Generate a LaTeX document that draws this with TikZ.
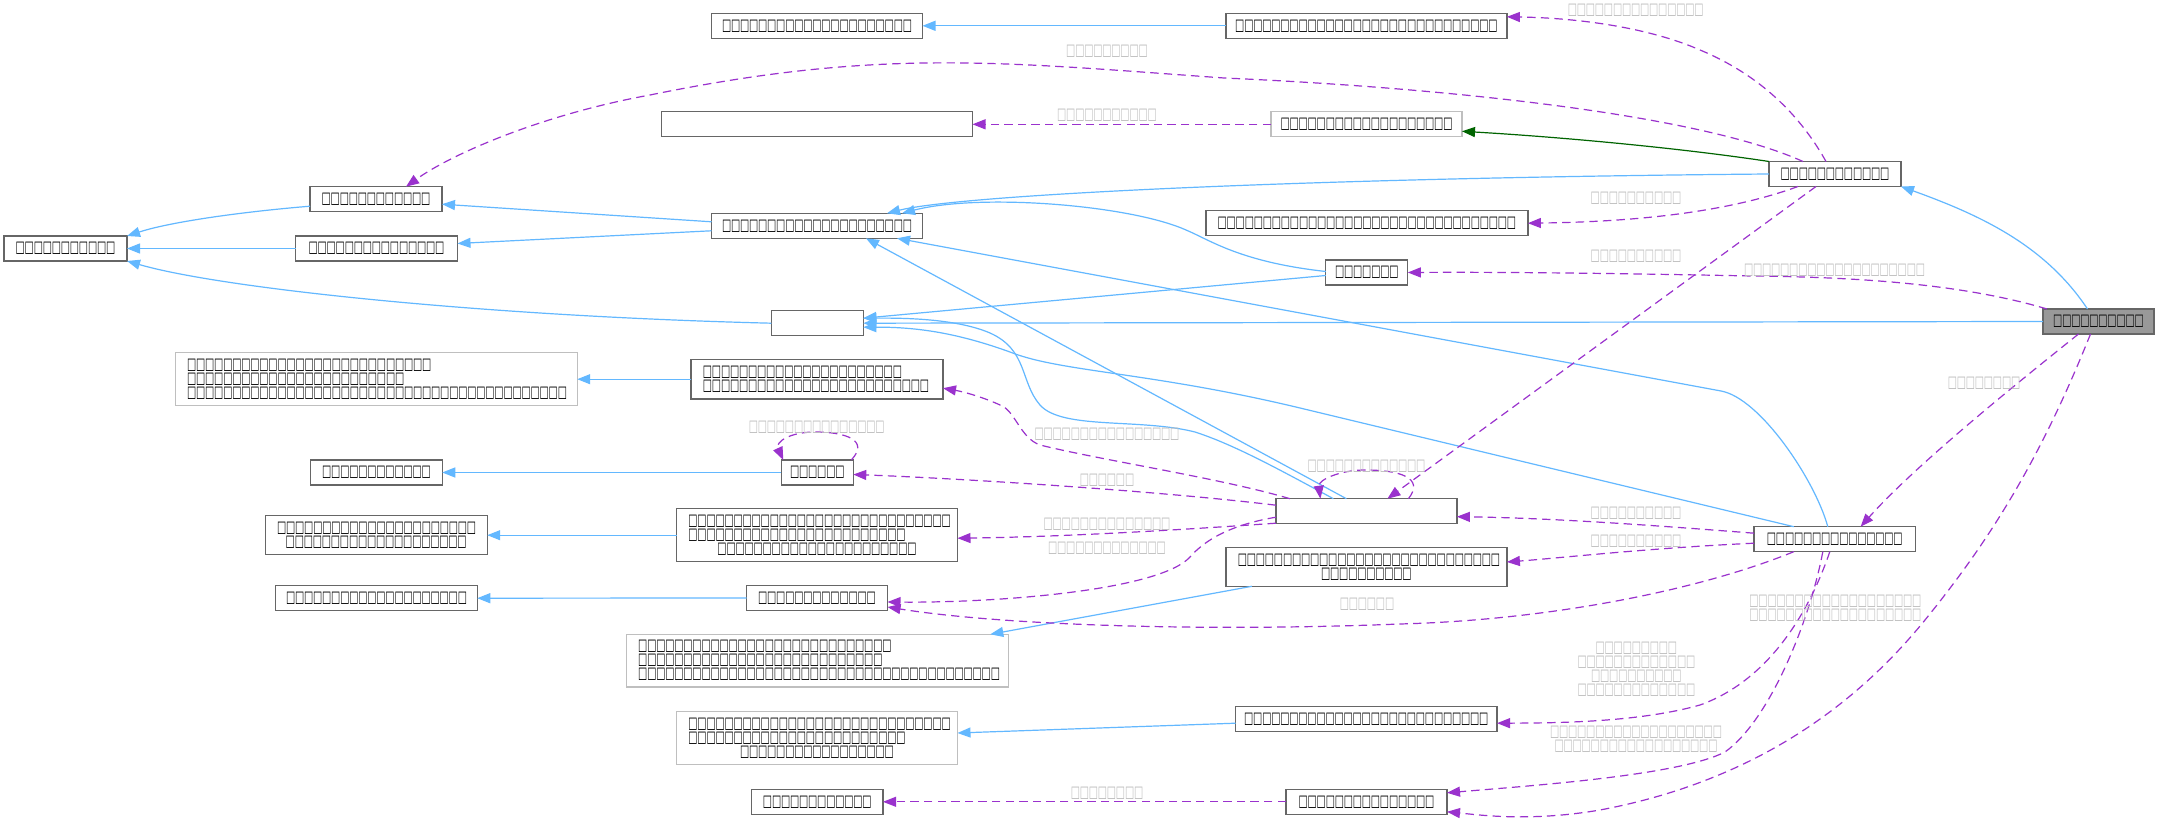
\documentclass[tikz,border=0pt]{standalone}
\usepackage{fontspec}
\usepackage{graphicx}
\usetikzlibrary{arrows.meta,calc}
\newfontfamily\tofufont{DejaVu Sans}
\definecolor{inhblue}{HTML}{63B8FF}
\definecolor{usepurple}{HTML}{9A32CD}
\definecolor{tplgreen}{HTML}{006400}
\definecolor{nodeborder}{HTML}{666666}
\definecolor{lightborder}{HTML}{BFBFBF}
\definecolor{mainfill}{HTML}{999999}
\definecolor{lblgray}{HTML}{BEBEBE}
\newcommand\tofuone{\makebox[4.52pt][c]{\resizebox*{4.6pt}{6.2pt}{\tofufont □}}}
\newcommand\tofus[1]{\ifnum#1>0 \tofuone\expandafter\tofus\expandafter{\the\numexpr#1-1\relax}\fi}
\newcommand\tofuc[1]{\mbox{}\hskip0pt plus1filll\tofus{#1}\hskip0pt plus1filll\mbox{}}
\tikzset{
  box/.style={draw=nodeborder, fill=white, line width=0.6pt, inner sep=0pt, outer sep=0pt,
    minimum height=12.5pt, text=black, font=\fontsize{6pt}{7pt}\selectfont},
  pale/.style={draw=lightborder},
  multi/.style={align=left, inner xsep=6pt, text width=#1},
  lbl/.style={text=lblgray, inner sep=0pt, align=center, font=\fontsize{6pt}{7pt}\selectfont},
  inh/.style={draw=inhblue, line width=0.6pt, -{Triangle[length=6.5pt,width=5pt]}},
  use/.style={draw=usepurple, line width=0.6pt, dash pattern=on 4.2pt off 2.6pt, -{Triangle[length=6.5pt,width=5pt]}},
  tpl/.style={draw=tplgreen, line width=0.6pt, -{Triangle[length=6.5pt,width=5pt]}},
}
\begin{document}
\begin{tikzpicture}[x=0.5pt,y=-0.5pt]
\useasboundingbox (0,0) rectangle (2160,823);
\fill[white] (0,0) rectangle (2160,823);
% ---------- nodes ----------
\node[box, minimum width=61.5pt] (Root) at (65.5,248.5) {\tofus{11}};
\node[box, minimum width=66pt] (B) at (376,199.2) {\tofus{12}};
\node[box, minimum width=81pt] (C) at (376.5,248.5) {\tofus{15}};
\node[box, pale, multi=189pt, minimum height=26.5pt] (D) at (376.2,379.2) {\tofus{27}\\\tofus{24}\\\tofus{42}};
\node[box, minimum width=105.5pt] (E) at (817,25.8) {\tofus{21}};
\node[box, minimum width=155.5pt] (F) at (817,124.3) {};
\node[box, minimum width=105.5pt] (G) at (817,225.8) {\tofus{21}};
\node[box, minimum width=46pt] (H) at (817.3,323.2) {};
\node[box, multi=114pt, minimum height=19.85pt] (I) at (817,379.2) {\tofus{22}\\\tofus{25}};
\node[box, minimum width=36pt] (J) at (817.3,472.5) {\tofus{6}};
\node[box, minimum width=65.75pt] (K) at (376.5,472.5) {\tofus{12}};
\node[box, multi=99pt, minimum height=19.5pt] (L) at (376.2,535.2) {\tofus{22}\\\tofuc{20}};
\node[box, multi=128.5pt, minimum height=26.5pt] (M) at (817,535.2) {\tofus{29}\\\tofus{24}\\\tofuc{22}};
\node[box, minimum width=100.75pt] (N) at (376.5,598.2) {\tofus{20}};
\node[box, minimum width=70.5pt] (O) at (817,598) {\tofus{13}};
\node[box, pale, multi=179pt, minimum height=26.4pt] (P) at (817.3,660.7) {\tofus{28}\\\tofus{27}\\\tofus{40}};
\node[box, pale, multi=128.5pt, minimum height=26.3pt] (Q) at (817,738) {\tofus{29}\\\tofus{24}\\\tofuc{17}};
\node[box, minimum width=65.75pt] (R) at (817.3,801.8) {\tofus{12}};
\node[box, minimum width=140.5pt] (S) at (1366.4,25.8) {\tofus{29}};
\node[box, pale, minimum width=95.5pt] (T) at (1366.5,124.3) {\tofus{19}};
\node[box, minimum width=161pt] (U) at (1366.9,223.2) {\tofus{33}};
\node[box, minimum width=41pt] (V) at (1366.8,272.5) {\tofus{7}};
\node[box, minimum width=90.5pt] (W) at (1366.4,511.2) {};
\node[box, multi=128.5pt, minimum height=19.3pt] (X) at (1366.4,567) {\tofus{29}\\\tofuc{10}};
\node[box, minimum width=130.75pt] (Y) at (1366.3,719.2) {\tofus{27}};
\node[box, minimum width=80.5pt] (Z) at (1366.5,801.8) {\tofus{15}};
\node[box, minimum width=66pt] (AA) at (1835,174) {\tofus{12}};
\node[box, minimum width=80.8pt] (AB) at (1834.8,539.2) {\tofus{15}};
\node[box, fill=mainfill, minimum width=55.5pt] (Main) at (2098.5,321.5) {\tofus{10}};
% ---------- inheritance (blue) ----------
\draw[inh] ($(B.west)+(0,7)$) .. controls (240,212) and (170,222) .. (Root.north east);
\draw[inh] (C.west) -- (Root.east);
\draw[inh] (H.west) .. controls (480,316) and (220,288) .. (Root.south east);
\draw[inh] ($(G.west)+(0,-4)$) -- ($(B.east)+(0,5)$);
\draw[inh] ($(G.west)+(0,5)$) -- ($(C.east)+(0,-5)$);
\draw[inh] (AA.west) .. controls (1300,178) and (960,195) .. ($(G.north)+(70,0)$);
\draw[inh] ($(V.west)+(0,-1)$) .. controls (1240,262) and (1210,240) .. (1186,230) .. controls (1130,205) and (980,193) .. ($(G.north)+(85,0)$);
\draw[inh] ($(W.north)+(-20,0)$) -- ($(G.south)+(49,0)$);
\draw[inh] ($(AB.north)+(-7,0)$) .. controls (1815,480) and (1760,398) .. (1721,391) -- ($(G.south)+(80,0)$);
\draw[inh] ($(AB.north)+(-41,0)$) -- (1300,408) .. controls (1150,372) and (1060,372) .. (1010,352) .. controls (960,334) and (920,327) .. ($(H.east)+(0,4)$);
\draw[inh] ($(V.west)+(0,3)$) -- ($(H.east)+(0,-5)$);
\draw[inh] (Main.west) -- (H.east);
\draw[inh] ($(W.north)+(-33,0)$) .. controls (1280,470) and (1235,445) .. (1195,432) .. controls (1140,418) and (1062,430) .. (1040,405) .. controls (1020,382) and (1028,350) .. (990,333) .. controls (955,318) and (900,318) .. ($(H.east)+(0,-5)$);
\draw[inh] (S.west) -- (E.east);
\draw[inh] ($(Main.north)+(-11,0)$) .. controls (2045,245) and (1980,215) .. (AA.south east);
\draw[inh] ($(X.south west)+(26,0)$) -- ($(P.north east)+(-18,0)$);
\draw[inh] ($(Y.west)+(0,4)$) -- ($(Q.east)+(0,-5)$);
\draw[inh] (I.west) -- (D.east);
\draw[inh] (J.west) -- (K.east);
\draw[inh] (M.west) -- (L.east);
\draw[inh] (O.west) -- (N.east);
% ---------- template (green) ----------
\draw[tpl] (AA.north west) .. controls (1680,148) and (1560,137) .. ($(T.east)+(0,7)$);
% ---------- usage (purple dashed) ----------
\draw[use] ($(AA.north)+(-9,0)$) .. controls (1800,115) and (1760,75) .. (1700,50) .. controls (1650,28) and (1580,18) .. ($(S.east)+(0,-9)$);
\draw[use] ($(AA.north)+(-32,0)$) .. controls (1700,115) and (1450,88) .. (1224,78) .. controls (1000,62) and (880,48) .. (650,95) .. controls (540,115) and (450,155) .. ($(B.north)+(30,0)$);
\draw[use] ($(AA.south)+(-37,0)$) .. controls (1720,215) and (1620,222) .. (U.east);
\draw[use] ($(AA.south)+(-19,0)$) -- ($(W.north)+(21,0)$);
\draw[use] (T.west) -- (F.east);
\draw[use] ($(Main.north west)+(4,0)$) .. controls (1960,283) and (1850,277) .. (1752,276) .. controls (1600,273) and (1500,272) .. (V.east);
\draw[use] ($(Main.south)+(-20,0)$) .. controls (2040,365) and (1920,460) .. ($(AB.north east)+(-55,0)$);
\draw[use] ($(Main.south)+(-8,0)$) .. controls (2040,460) and (1990,540) .. (1925,620) .. controls (1860,700) and (1760,780) .. (1600,810) .. controls (1530,822) and (1480,815) .. ($(Z.east)+(0,10)$);
\draw[use] ($(AB.south)+(-5,0)$) .. controls (1810,610) and (1770,680) .. (1700,705) .. controls (1640,722) and (1560,723) .. ($(Y.east)+(0,4)$);
\draw[use] ($(AB.south)+(-12,0)$) .. controls (1810,620) and (1770,720) .. (1725,752) .. controls (1680,775) and (1540,785) .. ($(Z.east)+(0,-9)$);
\draw[use] ($(AB.west)+(0,-6)$) .. controls (1650,525) and (1550,518) .. ($(W.east)+(0,5.5)$);
\draw[use] ($(AB.west)+(0,4)$) .. controls (1650,548) and (1560,558) .. ($(X.east)+(0,-5)$);
\draw[use] ($(AB.south)+(-41,0)$) .. controls (1700,590) and (1550,620) .. (1400,624) .. controls (1200,632) and (1000,625) .. ($(O.east)+(0,9)$);
\draw[use] ($(W.north west)+(14,0)$) .. controls (1220,478) and (1100,460) .. (1040,445) .. controls (1020,438) and (1015,410) .. (1000,405) .. controls (985,398) and (965,392) .. ($(I.east)+(0,9)$);
\draw[use] ($(W.west)+(0,-6)$) .. controls (1150,490) and (950,478) .. ($(J.east)+(0,2)$);
\draw[use] ($(J.north east)+(-2,0)$) .. controls (870,440) and (845,432) .. (815,432) .. controls (790,432) and (775,442) .. ($(J.north west)+(2,0)$);
\draw[use] ($(W.north)+(42,0)$) .. controls (1425,478) and (1400,470) .. (1365,470) .. controls (1340,470) and (1318,480) .. ($(W.north)+(-46,0)$);
\draw[use] ($(W.west)+(0,12)$) .. controls (1150,532) and (1050,537) .. ($(M.east)+(0,3)$);
\draw[use] ($(W.west)+(0,6)$) .. controls (1230,525) and (1205,540) .. (1190,557) .. controls (1160,590) and (1000,603) .. ($(O.east)+(0,4)$);
\draw[use] (Z.west) -- (R.east);
% ---------- edge labels ----------
\node[lbl] (lAAS) at (1635.7,10.7) {\tofus{15}};
\node[lbl] (lAAB) at (1107,51.7) {\tofus{9}};
\node[lbl] (lTF) at (1107,115.7) {\tofus{11}};
\node[lbl] (lAAU) at (1636,198) {\tofus{10}};
\node[lbl] (lAAW) at (1636,256) {\tofus{10}};
\node[lbl] (lMV) at (1834.5,270.7) {\tofus{20}};
\node[lbl] (lMAB) at (1984,383) {\tofus{8}};
\node[lbl] (lWI) at (1107,434) {\tofus{16}};
\node[lbl] (lJJ) at (816.7,427.7) {\tofus{15}};
\node[lbl] (lWJ) at (1107,480) {\tofus{6}};
\node[lbl] (lWW) at (1366.5,466) {\tofus{13}};
\node[lbl] (lWM) at (1107,524) {\tofus{14}};
\node[lbl] (lWO) at (1107,548) {\tofus{13}};
\node[lbl] (lABO) at (1367,604) {\tofus{6}};
\node[lbl] (lZR) at (1107,793) {\tofus{8}};
\node[lbl] (lABW) at (1636,513) {\tofus{10}};
\node[lbl] (lABX) at (1636,541) {\tofus{10}};
\node[lbl] (lABY) at (1636.4,669.5) {\tofus{9}\\\tofus{13}\\\tofus{10}\\\tofus{13}};
\node[lbl] (lABZ) at (1636,739.7) {\tofus{19}\\\tofus{18}};
\node[lbl] (lMZ) at (1835.4,608.4) {\tofus{19}\\\tofus{19}};
\end{tikzpicture}
\end{document}
